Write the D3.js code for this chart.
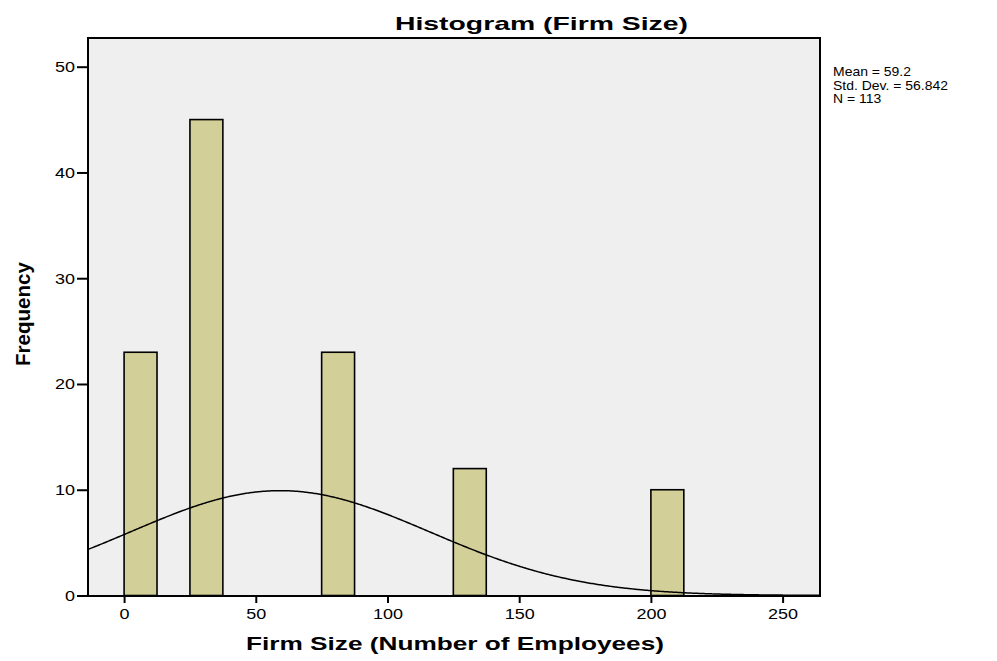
<!DOCTYPE html>
<html>
<head>
<meta charset="utf-8">
<script src="https://cdn.jsdelivr.net/npm/d3@7"></script>
<style>
  html, body { margin: 0; padding: 0; background: #fff; }
  svg { display: block; font-family: "Liberation Sans", Arial, sans-serif; }
</style>
</head>
<body>
<svg id="chart" width="997" height="661"></svg>
<script>
// Histogram bins (lower edge, employees) and their frequencies
const binStarts = [0, 25, 75, 125, 200];
const binWidth = 12.5;
const frequencies = [23, 45, 23, 12, 10];

// Summary statistics shown beside the plot
const statMean = 59.2;
const statStdDev = 56.842;
const statN = 113;

const xTicks = [0, 50, 100, 150, 200, 250];
const yTicks = [0, 10, 20, 30, 40, 50];

const svg = d3.select("#chart");
const plot = { left: 88, right: 820, top: 38, bottom: 596 };
const stretch = 1.16; // horizontal widening of tick labels

const x = d3.scaleLinear()
  .domain([-13.7, 264.2])
  .range([plot.left, plot.right]);
const y = d3.scaleLinear()
  .domain([0, 50])
  .range([595.5, 66.7]);

// plot background
svg.append("rect")
  .attr("x", plot.left).attr("y", plot.top)
  .attr("width", plot.right - plot.left)
  .attr("height", plot.bottom - plot.top)
  .attr("fill", "#efefef");

// bars
const bins = binStarts.map((s, i) => ({ x0: s, x1: s + binWidth, n: frequencies[i] }));
svg.append("g").selectAll("rect").data(bins).join("rect")
  .attr("x", d => x(d.x0))
  .attr("y", d => y(d.n))
  .attr("width", d => x(d.x1) - x(d.x0))
  .attr("height", d => y(0) - y(d.n))
  .attr("fill", "#d3cf98")
  .attr("stroke", "#000")
  .attr("stroke-width", 1.6);

// fitted normal curve scaled to counts per bin
const scaleFactor = statN * binWidth / (statStdDev * Math.sqrt(2 * Math.PI));
const curvePts = d3.range(x.domain()[0], x.domain()[1] + 0.01, 0.5).map(v => {
  const z = (v - statMean) / statStdDev;
  return [v, scaleFactor * Math.exp(-0.5 * z * z)];
});
svg.append("path")
  .datum(curvePts)
  .attr("fill", "none")
  .attr("stroke", "#000")
  .attr("stroke-width", 1.5)
  .attr("d", d3.line().x(d => x(d[0])).y(d => y(d[1])).curve(d3.curveBasis));

// frame
svg.append("rect")
  .attr("x", plot.left).attr("y", plot.top)
  .attr("width", plot.right - plot.left)
  .attr("height", plot.bottom - plot.top)
  .attr("fill", "none")
  .attr("stroke", "#000")
  .attr("stroke-width", 2);

// axes
const xAxis = svg.append("g")
  .attr("transform", `translate(0,${plot.bottom})`)
  .call(d3.axisBottom(x).tickValues(xTicks).tickSize(7).tickPadding(5));
const yAxis = svg.append("g")
  .attr("transform", `translate(${plot.left},0)`)
  .call(d3.axisLeft(y).tickValues(yTicks).tickSize(11).tickPadding(2));
[xAxis, yAxis].forEach(g => {
  g.select(".domain").remove();
  g.selectAll("line").attr("stroke", "#000").attr("stroke-width", 2);
  g.selectAll("text")
    .attr("fill", "#000")
    .style("font-size", "15.5px")
    .style("font-family", "'Liberation Sans', Arial, sans-serif");
});
xAxis.selectAll("text").attr("transform", `scale(${stretch},1)`);
yAxis.selectAll("text")
  .attr("x", -13 / stretch)
  .attr("transform", `scale(${stretch},1)`);

// title
svg.append("text")
  .attr("x", 541.5).attr("y", 30)
  .attr("text-anchor", "middle")
  .attr("textLength", 293)
  .attr("lengthAdjust", "spacingAndGlyphs")
  .style("font-size", "19px").style("font-weight", "bold")
  .text("Histogram (Firm Size)");

// axis titles
svg.append("text")
  .attr("x", 455).attr("y", 650)
  .attr("text-anchor", "middle")
  .attr("textLength", 418)
  .attr("lengthAdjust", "spacingAndGlyphs")
  .style("font-size", "19px").style("font-weight", "bold")
  .text("Firm Size (Number of Employees)");

svg.append("text")
  .attr("transform", "translate(30,314) rotate(-90)")
  .attr("text-anchor", "middle")
  .attr("textLength", 104)
  .attr("lengthAdjust", "spacingAndGlyphs")
  .style("font-size", "21px").style("font-weight", "bold")
  .text("Frequency");

// statistics box
const statLines = [
  `Mean = ${statMean}`,
  `Std. Dev. = ${statStdDev}`,
  `N = ${statN}`
];
svg.append("g")
  .attr("transform", "translate(833,0) scale(1.075,1)")
  .selectAll("text").data(statLines).join("text")
  .attr("x", 0)
  .attr("y", (d, i) => 76 + i * 13.6)
  .style("font-size", "13px")
  .text(d => d);
</script>
</body>
</html>
